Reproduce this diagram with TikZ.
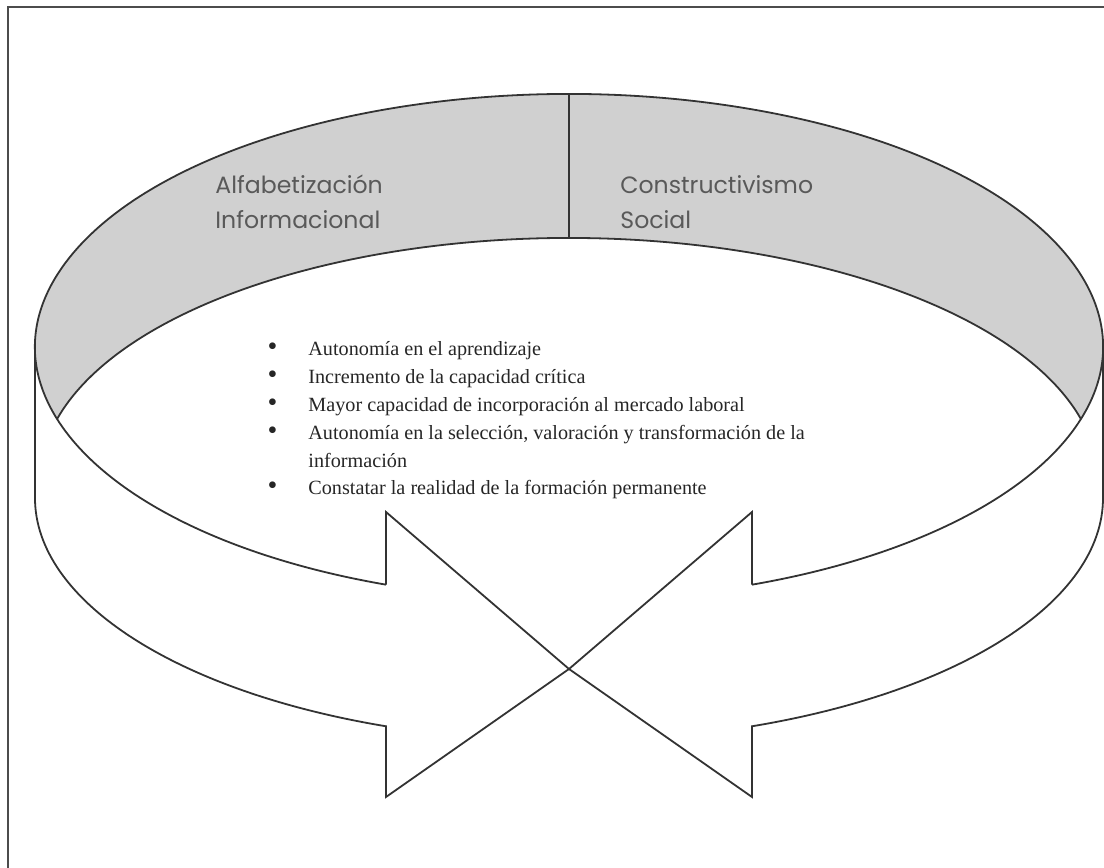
\documentclass[tikz,border=0pt]{standalone}
\usepackage{fontspec}
\setmainfont{Liberation Serif}
\newfontfamily\headfont{Poppins}
\usetikzlibrary{positioning}
\definecolor{bandgray}{RGB}{208,208,208}
\definecolor{linegray}{RGB}{51,51,51}
\definecolor{headgray}{RGB}{89,89,89}
\newcommand{\bul}{\llap{{\fontsize{14}{14}\selectfont\textbullet}\hspace{15.5pt}}}

\begin{document}
\begin{tikzpicture}[
  x=0.5pt, y=0.5pt,
  edge/.style={draw=linegray, line width=0.9pt, line join=miter},
  head/.style={anchor=base west, align=left, text=headgray, inner sep=0pt,
               font=\headfont\fontsize{11.8}{17.5}\selectfont},
  items/.style={anchor=base west, align=left, text=black!85, inner sep=0pt,
                font=\fontsize{10.1}{13.9}\selectfont}
]
\useasboundingbox (0,0) rectangle (1104,868);
\coordinate (top) at (569,521);
\coordinate (inner) at (569,388);
\coordinate (tip) at (569,199);
\coordinate (la-top) at (386,356);
\coordinate (la-bot) at (386,71);
\coordinate (ra-top) at (752,356);
\coordinate (ra-bot) at (752,71);
% marco recortado
\draw[black!70, line width=1pt] (8,0) -- (8,861) -- (1104,861);
% cara superior
\fill[bandgray] (top) ++(196.53:534 and 253)
  arc[start angle=196.53, end angle=-16.53, x radius=534, y radius=253]
  arc[start angle=14.6, end angle=165.4, x radius=529, y radius=242] -- cycle;
\draw[edge] (top) ++(249.96:534 and 253)
  arc[start angle=249.96, end angle=-69.96, x radius=534, y radius=253];
\draw[edge] (inner) ++(165.4:529 and 242)
  arc[start angle=165.4, end angle=14.6, x radius=529, y radius=242];
\draw[edge] (569,774) -- (569,630);
% flechas
\draw[edge] (35,521) -- (35,370)
  arc[start angle=180, end angle=249.96, x radius=534, y radius=243]
  -- (la-bot) -- (tip) -- (la-top) -- (386,283.3);
\draw[edge] (1103,521) -- (1103,370)
  arc[start angle=0, end angle=-69.96, x radius=534, y radius=243]
  -- (ra-bot) -- (tip) -- (ra-top) -- (752,283.3);
% textos
\node[head] (alfin) at (215,639) {Alfabetización\\Informacional};
\node[head] (constsoc) at (620,639) {Constructivismo\\Social};
\node[items] (logros) at (308,373) {\bul Autonomía en el aprendizaje\\
  \bul Incremento de la capacidad crítica\\
  \bul Mayor capacidad de incorporación al mercado laboral\\
  \bul Autonomía en la selección, valoración y transformación de la\\
  información\\
  \bul Constatar la realidad de la formación permanente};
\end{tikzpicture}
\end{document}
